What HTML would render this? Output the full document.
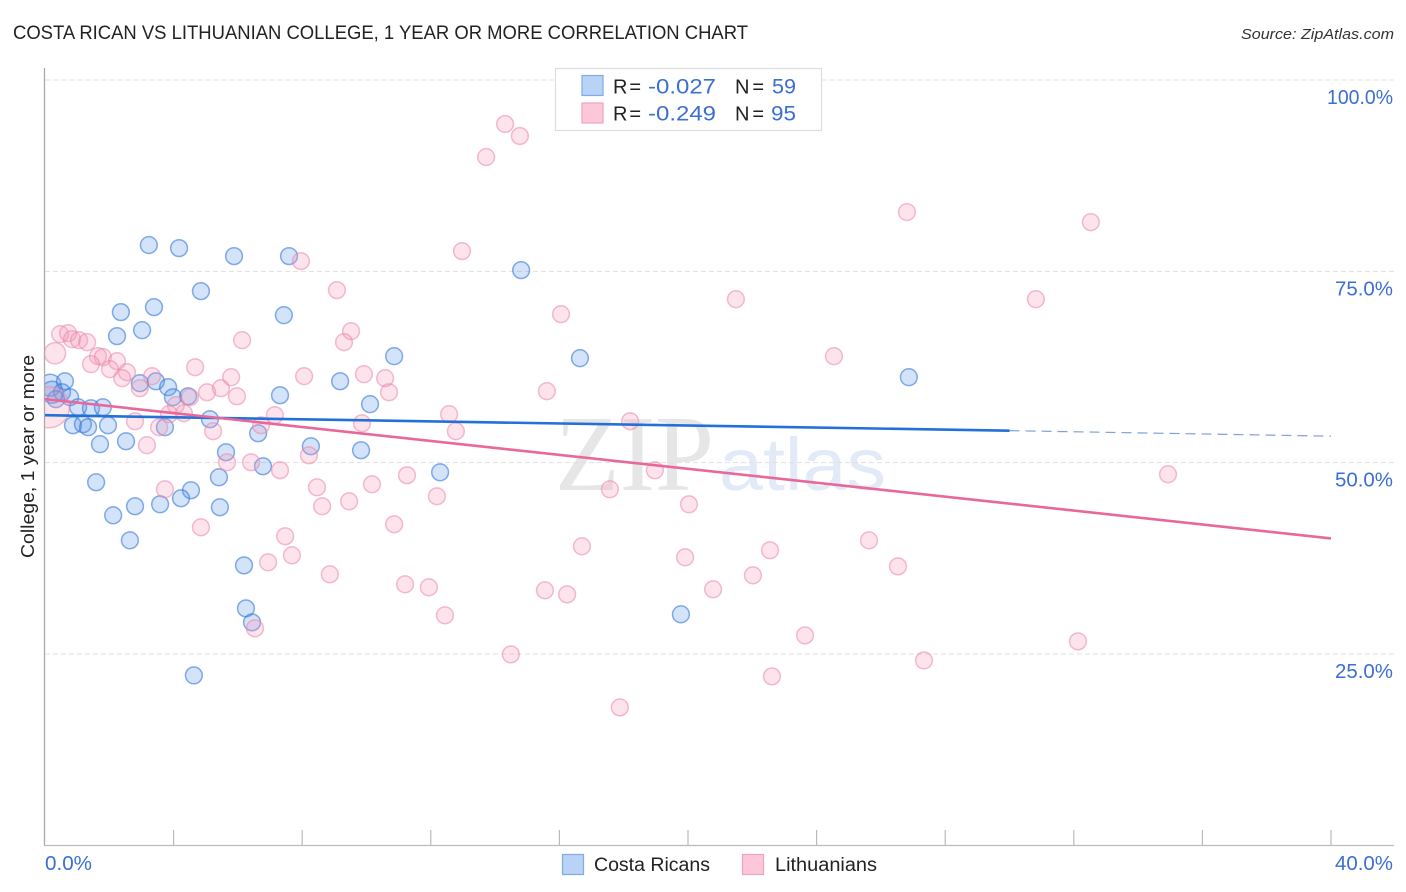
<!DOCTYPE html>
<html lang="en">
<head>
<meta charset="utf-8">
<title>Costa Rican vs Lithuanian College Correlation Chart</title>
<style>
html,body{margin:0;padding:0;background:#fff;width:1406px;height:892px;overflow:hidden}
svg{display:block}
text{font-family:"Liberation Sans",sans-serif}
</style>
</head>
<body>
<svg id="chart" xmlns="http://www.w3.org/2000/svg" width="1406" height="892" viewBox="0 0 1406 892">
  <defs>
    <clipPath id="plot-clip"><rect x="45" y="60" width="1349" height="786"/></clipPath>
  </defs>
  <text x="13" y="39" font-size="19" fill="#222" textLength="735" lengthAdjust="spacingAndGlyphs">COSTA RICAN VS LITHUANIAN COLLEGE, 1 YEAR OR MORE CORRELATION CHART</text>
  <text x="1241" y="39" font-size="15" font-style="italic" fill="#333" textLength="153" lengthAdjust="spacingAndGlyphs">Source: ZipAtlas.com</text>
  <g id="watermark">
    <text x="555" y="490" font-size="108" fill="#e6e6e6" textLength="159" lengthAdjust="spacingAndGlyphs" style="font-family:'Liberation Serif',serif">ZIP</text>
    <text x="719" y="490" font-size="74" fill="#e2eaf8" textLength="167" lengthAdjust="spacingAndGlyphs">atlas</text>
  </g>
  <g id="grid"></g>
  <g id="axes"></g>
  <g id="ticks"></g>
  <text transform="translate(34,558) rotate(-90)" font-size="18.5" fill="#222" textLength="203" lengthAdjust="spacingAndGlyphs">College, 1 year or more</text>
  <g id="points" clip-path="url(#plot-clip)"></g>
  <g id="trends"></g>

  <g>
    <rect x="555.5" y="68.5" width="266" height="62" fill="#fff" stroke="#ddd" stroke-width="1.2"/>
    <rect x="582" y="75.5" width="21" height="20" fill="#b9d3f6" stroke="#7fabe6" stroke-width="1.2"/>
    <rect x="582" y="103" width="21" height="20" fill="#fcc8d9" stroke="#efa3bc" stroke-width="1.2"/>
    <text x="613" y="93.5" font-size="20" fill="#222" textLength="28" lengthAdjust="spacing">R =</text>
    <text x="648" y="93.5" font-size="21" fill="#3b6fd1" textLength="68" lengthAdjust="spacingAndGlyphs">-0.027</text>
    <text x="735" y="93.5" font-size="20" fill="#222" textLength="29" lengthAdjust="spacing">N =</text>
    <text x="772" y="93.5" font-size="21" fill="#3b6fd1" textLength="24" lengthAdjust="spacingAndGlyphs">59</text>
    <text x="613" y="120.5" font-size="20" fill="#222" textLength="28" lengthAdjust="spacing">R =</text>
    <text x="648" y="120.5" font-size="21" fill="#3b6fd1" textLength="68" lengthAdjust="spacingAndGlyphs">-0.249</text>
    <text x="735" y="120.5" font-size="20" fill="#222" textLength="29" lengthAdjust="spacing">N =</text>
    <text x="771" y="120.5" font-size="21" fill="#3b6fd1" textLength="25" lengthAdjust="spacingAndGlyphs">95</text>
  </g>

  <g>
    <rect x="562.5" y="854.5" width="21" height="20" fill="#b9d3f6" stroke="#7fabe6" stroke-width="1.2"/>
    <text x="594" y="871" font-size="19" fill="#222" textLength="116" lengthAdjust="spacingAndGlyphs">Costa Ricans</text>
  </g>
  <g>
    <rect x="742.5" y="854.5" width="21" height="20" fill="#fcc8d9" stroke="#efa3bc" stroke-width="1.2"/>
    <text x="775" y="871" font-size="19" fill="#222" textLength="102" lengthAdjust="spacingAndGlyphs">Lithuanians</text>
  </g>
</svg>
<script>
var costaX = [3.23,4.17,5.88,7.59,14.81,4.85,7.43,2.36,3.39,3.02,2.24,10.86,16.64,26.87,9.18,10.11,7.31,2.95,3.45,3.83,3.98,4.45,0.16,0.22,0.62,0.53,0.78,0.34,1.03,1.43,1.80,0.87,1.18,1.34,1.96,1.71,2.52,3.73,5.13,6.63,8.27,9.83,5.63,6.78,12.29,1.59,5.41,4.54,4.23,3.58,2.80,2.12,5.44,2.64,6.19,6.25,6.44,4.63,19.78];
var costaY = [78.43,78.03,76.99,76.99,75.16,72.41,69.27,69.67,70.32,67.31,66.53,63.91,63.65,61.17,60.64,57.64,58.81,60.38,60.64,59.86,58.55,58.68,60.12,59.20,60.64,59.20,58.55,58.29,57.24,57.11,57.24,54.89,55.02,54.63,54.89,52.41,52.80,54.63,55.67,53.84,52.14,51.62,51.36,49.53,48.74,47.44,48.09,46.39,45.35,44.56,44.30,43.12,44.17,39.85,36.58,30.96,29.13,22.20,30.18];
var costaWeight = [1,1,1,1,1,1,1,1,1,1,1,1,1,1,1,1,1,1,1,1,1,1,1.7,1.7,1,1,1,1,1,1,1,1,1,1,1,1,1,1,1,1,1,1,1,1,1,1,1,1,1,1,1,1,1,1,1,1,1,1,1];

var lithX = [14.31,14.77,13.72,26.81,32.53,12.97,7.96,9.08,21.49,30.82,16.05,9.52,9.30,6.13,0.47,0.72,0.84,1.06,1.31,0.31,24.54,1.65,1.80,1.43,2.24,2.02,2.55,2.40,3.33,2.95,4.67,5.79,8.06,9.92,10.58,10.70,15.61,5.47,5.04,5.97,4.51,4.07,4.32,3.86,2.80,3.55,5.23,7.15,6.72,9.86,12.57,18.20,12.78,3.17,8.21,5.66,6.41,7.31,11.26,18.97,34.93,3.73,8.46,10.17,9.46,8.62,12.19,17.57,20.03,4.85,10.86,7.47,16.70,6.94,7.68,22.55,19.91,25.63,26.53,8.86,11.20,11.94,15.55,16.24,20.78,22.02,12.44,23.64,32.13,6.53,14.49,27.34,22.61,17.88,0.12];
var lithY = [94.25,92.68,89.93,82.74,81.43,77.64,76.33,72.54,71.36,71.36,69.40,67.18,65.74,66.00,66.79,66.92,66.13,66.00,65.74,64.30,63.91,63.91,63.78,62.87,63.26,62.21,61.82,61.04,61.30,59.73,62.47,61.17,61.30,61.56,61.04,59.20,59.34,59.73,59.20,58.68,58.55,57.51,56.46,56.33,55.41,54.63,54.11,56.20,54.89,55.15,56.33,55.41,54.11,52.28,50.97,50.05,50.05,49.01,48.35,49.01,48.48,46.52,46.78,47.18,44.95,44.30,45.61,46.52,44.56,41.55,41.95,40.38,39.07,36.98,37.89,38.55,37.63,39.85,36.45,35.41,34.10,33.71,33.32,32.79,33.45,35.28,30.05,27.43,26.65,28.35,24.95,24.16,22.07,18.02,57.24];
var lithWeight = [1,1,1,1,1,1,1,1,1,1,1,1,1,1,1,1,1,1,1,1.6,1,1,1,1,1,1,1,1,1,1,1,1,1,1,1,1,1,1,1,1,1,1,1,1,1,1,1,1,1,1,1,1,1,1,1,1,1,1,1,1,1,1,1,1,1,1,1,1,1,1,1,1,1,1,1,1,1,1,1,1,1,1,1,1,1,1,1,1,1,1,1,1,1,1,6];

var costaTrendX = [0,30];
var costaTrendY = [56.2,54.18];
var costaDashX = [30,40];
var costaDashY = [54.18,53.46];
var lithTrendX = [0,40];
var lithTrendY = [58.3,40.1];

var yTickValues = [100,75,50,25];
var yTickLabels = ["100.0%","75.0%","50.0%","25.0%"];
var xTickValues = [0,4,8,12,16,20,24,28,32,36,40];
var xEndLabels = ["0.0%","40.0%"];

var SVGNS = "http://www.w3.org/2000/svg";
function sx(v){ return 45 + v * 32.15; }
function sy(v){ return 845.3 - v * 7.653; }
function mk(tag, attrs, parent){
  var el = document.createElementNS(SVGNS, tag);
  for (var k in attrs) el.setAttribute(k, attrs[k]);
  parent.appendChild(el);
  return el;
}
function labelWidth(s){ return s.length === 6 ? 66 : (s.length === 5 ? 58 : 47); }

var gridG = document.getElementById("grid");
yTickValues.forEach(function(v){
  var l = mk("line", {x1:45, x2:1394, y1:sy(v), y2:sy(v), stroke:"#e0e0e0", "stroke-width":1, "stroke-dasharray":"5 3"}, gridG);
  
  
});

var axesG = document.getElementById("axes");
var yAxis = mk("line", {x1:44.5, x2:44.5, y1:68, y2:846, stroke:"#aaa", "stroke-width":1.3}, axesG);


var xAxis = mk("line", {x1:44, x2:1394, y1:845.5, y2:845.5, stroke:"#bbb", "stroke-width":1.3}, axesG);


xTickValues.forEach(function(v){
  if (v === 0) return;
  var t = mk("line", {x1:sx(v), x2:sx(v), y1:830, y2:846, stroke:"#bbb", "stroke-width":1.2}, axesG);
  
  
});

var ticksG = document.getElementById("ticks");
yTickLabels.forEach(function(label, i){
  var t = mk("text", {x:1393 - labelWidth(label), y:sy(yTickValues[i]) + 24, "font-size":20, fill:"#3b6fd1", textLength:labelWidth(label), lengthAdjust:"spacingAndGlyphs"}, ticksG);
  t.textContent = label;
  
  
});
var x0 = mk("text", {x:45, y:870, "font-size":20, fill:"#3b6fd1", textLength:47, lengthAdjust:"spacingAndGlyphs"}, ticksG);
x0.textContent = xEndLabels[0];


var x1 = mk("text", {x:1335, y:870, "font-size":20, fill:"#3b6fd1", textLength:58, lengthAdjust:"spacingAndGlyphs"}, ticksG);
x1.textContent = xEndLabels[1];



var pointsG = document.getElementById("points");
costaX.forEach(function(v, i){
  var c = mk("circle", {cx:sx(v), cy:sy(costaY[i]), r:8.4 * Math.sqrt(costaWeight[i]), fill:"rgba(86,146,230,0.26)", stroke:"rgba(55,120,215,0.6)", "stroke-width":1.5}, pointsG);
  
  
});
lithX.forEach(function(v, i){
  var c = mk("circle", {cx:sx(v), cy:sy(lithY[i]), r:8.4 * Math.sqrt(lithWeight[i]), fill:"rgba(246,155,185,0.28)", stroke:"rgba(235,135,170,0.55)", "stroke-width":1.5}, pointsG);
  
  
});

var trendsG = document.getElementById("trends");
var tb = mk("line", {x1:sx(costaTrendX[0]), y1:sy(costaTrendY[0]), x2:sx(costaTrendX[1]), y2:sy(costaTrendY[1]), stroke:"#2271d9", "stroke-width":2.6}, trendsG);


var td = mk("line", {x1:sx(costaDashX[0]), y1:sy(costaDashY[0]), x2:sx(costaDashX[1]), y2:sy(costaDashY[1]), stroke:"#7da3d8", "stroke-width":1.2, "stroke-dasharray":"10 6"}, trendsG);


var tp = mk("line", {x1:sx(lithTrendX[0]), y1:sy(lithTrendY[0]), x2:sx(lithTrendX[1]), y2:sy(lithTrendY[1]), stroke:"#e8689a", "stroke-width":2.6}, trendsG);


</script>
</body>
</html>
